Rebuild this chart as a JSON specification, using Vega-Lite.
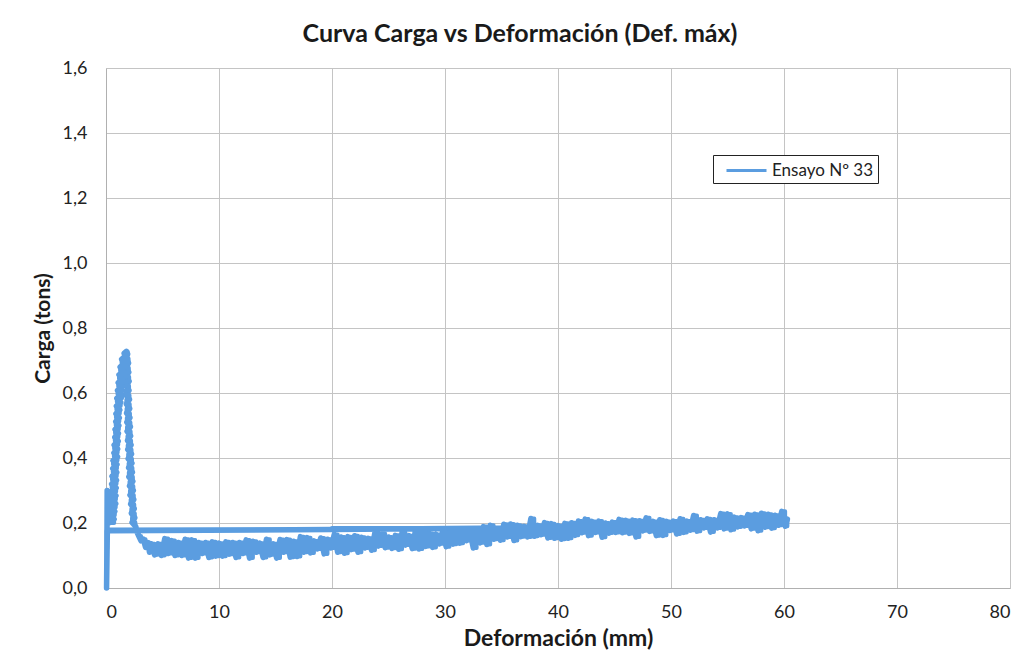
{
  "$schema": "https://vega.github.io/schema/vega-lite/v6.json",
  "width": 904,
  "height": 520,
  "autosize": {"type": "none"},
  "padding": {"left": 106, "top": 68, "right": 13, "bottom": 75},
  "background": "white",
  "title": {"text": "Curva Carga vs Deformación (Def. máx)", "font": "Lato", "fontSize": 25, "fontWeight": "bold", "color": "#1a1a1a", "anchor": "middle", "dx": -38, "offset": 12},
  "data": {"values": [
    {"def": 38.0, "carga": 0.185}, {"def": 20.0, "carga": 0.18}, {"def": 0.3, "carga": 0.176}, {"def": 0.12, "carga": 0.176},
    {"def": 0.05, "carga": 0.0}, {"def": 0.08, "carga": 0.12}, {"def": 0.1, "carga": 0.3}, {"def": 0.15, "carga": 0.21},
    {"def": 0.25, "carga": 0.2}, {"def": 0.72, "carga": 0.212}, {"def": 0.3, "carga": 0.224}, {"def": 0.78, "carga": 0.236},
    {"def": 0.33, "carga": 0.248}, {"def": 0.86, "carga": 0.26}, {"def": 0.4, "carga": 0.272}, {"def": 0.88, "carga": 0.284},
    {"def": 0.43, "carga": 0.296}, {"def": 0.9, "carga": 0.308}, {"def": 0.5, "carga": 0.32}, {"def": 0.93, "carga": 0.332},
    {"def": 0.53, "carga": 0.344}, {"def": 0.95, "carga": 0.356}, {"def": 0.6, "carga": 0.368}, {"def": 0.97, "carga": 0.38},
    {"def": 0.62, "carga": 0.392}, {"def": 1.02, "carga": 0.404}, {"def": 0.7, "carga": 0.416}, {"def": 1.03, "carga": 0.428},
    {"def": 0.72, "carga": 0.44}, {"def": 1.08, "carga": 0.452}, {"def": 0.78, "carga": 0.464}, {"def": 1.1, "carga": 0.476},
    {"def": 0.8, "carga": 0.488}, {"def": 1.14, "carga": 0.5}, {"def": 0.86, "carga": 0.512}, {"def": 1.18, "carga": 0.524},
    {"def": 0.88, "carga": 0.536}, {"def": 1.22, "carga": 0.548}, {"def": 0.92, "carga": 0.56}, {"def": 1.3, "carga": 0.572},
    {"def": 0.96, "carga": 0.584}, {"def": 1.42, "carga": 0.596}, {"def": 1.02, "carga": 0.608}, {"def": 1.45, "carga": 0.62},
    {"def": 1.08, "carga": 0.632}, {"def": 1.5, "carga": 0.644}, {"def": 1.15, "carga": 0.656}, {"def": 1.58, "carga": 0.668},
    {"def": 1.25, "carga": 0.68}, {"def": 1.62, "carga": 0.692}, {"def": 1.38, "carga": 0.704}, {"def": 1.7, "carga": 0.714},
    {"def": 1.6, "carga": 0.722}, {"def": 1.8, "carga": 0.728}, {"def": 1.92, "carga": 0.72},
    {"def": 1.78, "carga": 0.706}, {"def": 2.0, "carga": 0.692}, {"def": 1.76, "carga": 0.678}, {"def": 2.02, "carga": 0.664},
    {"def": 1.75, "carga": 0.65}, {"def": 2.05, "carga": 0.636}, {"def": 1.78, "carga": 0.622}, {"def": 2.04, "carga": 0.608},
    {"def": 1.76, "carga": 0.594}, {"def": 2.08, "carga": 0.58}, {"def": 1.8, "carga": 0.566}, {"def": 2.1, "carga": 0.552},
    {"def": 1.82, "carga": 0.538}, {"def": 2.12, "carga": 0.524}, {"def": 1.84, "carga": 0.51}, {"def": 2.16, "carga": 0.496},
    {"def": 1.86, "carga": 0.482}, {"def": 2.18, "carga": 0.468}, {"def": 1.9, "carga": 0.454}, {"def": 2.22, "carga": 0.44},
    {"def": 1.92, "carga": 0.426}, {"def": 2.26, "carga": 0.412}, {"def": 1.96, "carga": 0.398}, {"def": 2.3, "carga": 0.384},
    {"def": 2.0, "carga": 0.37}, {"def": 2.34, "carga": 0.356}, {"def": 2.02, "carga": 0.342}, {"def": 2.38, "carga": 0.328},
    {"def": 2.08, "carga": 0.314}, {"def": 2.42, "carga": 0.3}, {"def": 2.12, "carga": 0.286}, {"def": 2.46, "carga": 0.272},
    {"def": 2.18, "carga": 0.258}, {"def": 2.5, "carga": 0.244}, {"def": 2.24, "carga": 0.23}, {"def": 2.55, "carga": 0.216},
    {"def": 2.3, "carga": 0.202}, {"def": 2.6, "carga": 0.19}, {"def": 2.7, "carga": 0.175}, {"def": 2.9, "carga": 0.16},
    {"def": 3.1, "carga": 0.145}, {"def": 3.3, "carga": 0.15}, {"def": 3.5, "carga": 0.125}, {"def": 3.7, "carga": 0.14},
    {"def": 3.85, "carga": 0.11},
    {"def": 4.0, "carga": 0.136}, {"def": 4.3, "carga": 0.102}, {"def": 4.6, "carga": 0.136}, {"def": 4.9, "carga": 0.1},
    {"def": 5.2, "carga": 0.152}, {"def": 5.5, "carga": 0.106}, {"def": 5.8, "carga": 0.146}, {"def": 6.1, "carga": 0.1},
    {"def": 6.4, "carga": 0.14}, {"def": 6.7, "carga": 0.1}, {"def": 7.0, "carga": 0.15}, {"def": 7.3, "carga": 0.092},
    {"def": 7.6, "carga": 0.148}, {"def": 7.9, "carga": 0.092}, {"def": 8.2, "carga": 0.14}, {"def": 8.5, "carga": 0.106},
    {"def": 8.8, "carga": 0.14}, {"def": 9.1, "carga": 0.094}, {"def": 9.4, "carga": 0.142}, {"def": 9.7, "carga": 0.098},
    {"def": 10.0, "carga": 0.138}, {"def": 10.3, "carga": 0.098}, {"def": 10.6, "carga": 0.142}, {"def": 10.9, "carga": 0.104},
    {"def": 11.2, "carga": 0.14}, {"def": 11.5, "carga": 0.094}, {"def": 11.8, "carga": 0.14}, {"def": 12.1, "carga": 0.106},
    {"def": 12.4, "carga": 0.148}, {"def": 12.7, "carga": 0.092}, {"def": 13.0, "carga": 0.144}, {"def": 13.3, "carga": 0.11},
    {"def": 13.6, "carga": 0.138}, {"def": 13.9, "carga": 0.094}, {"def": 14.2, "carga": 0.15}, {"def": 14.5, "carga": 0.102},
    {"def": 14.8, "carga": 0.136}, {"def": 15.1, "carga": 0.092}, {"def": 15.4, "carga": 0.149}, {"def": 15.7, "carga": 0.11},
    {"def": 16.0, "carga": 0.149}, {"def": 16.3, "carga": 0.095}, {"def": 16.6, "carga": 0.144}, {"def": 16.9, "carga": 0.097},
    {"def": 17.2, "carga": 0.158}, {"def": 17.5, "carga": 0.11}, {"def": 17.8, "carga": 0.155}, {"def": 18.1, "carga": 0.108},
    {"def": 18.4, "carga": 0.145}, {"def": 18.7, "carga": 0.12}, {"def": 19.0, "carga": 0.154}, {"def": 19.3, "carga": 0.105},
    {"def": 19.6, "carga": 0.15}, {"def": 19.9, "carga": 0.123}, {"def": 20.2, "carga": 0.165}, {"def": 20.5, "carga": 0.11},
    {"def": 20.8, "carga": 0.157}, {"def": 21.1, "carga": 0.107}, {"def": 21.4, "carga": 0.158}, {"def": 21.7, "carga": 0.118},
    {"def": 22.0, "carga": 0.161}, {"def": 22.3, "carga": 0.11}, {"def": 22.6, "carga": 0.156}, {"def": 22.9, "carga": 0.123},
    {"def": 23.2, "carga": 0.153}, {"def": 23.5, "carga": 0.116}, {"def": 23.8, "carga": 0.171}, {"def": 24.1, "carga": 0.129},
    {"def": 24.4, "carga": 0.168}, {"def": 24.7, "carga": 0.124}, {"def": 25.0, "carga": 0.157}, {"def": 25.3, "carga": 0.122},
    {"def": 25.6, "carga": 0.162}, {"def": 25.9, "carga": 0.119}, {"def": 26.2, "carga": 0.171}, {"def": 26.5, "carga": 0.132},
    {"def": 26.8, "carga": 0.161}, {"def": 27.1, "carga": 0.121}, {"def": 27.4, "carga": 0.18}, {"def": 27.7, "carga": 0.12},
    {"def": 28.0, "carga": 0.179}, {"def": 28.3, "carga": 0.128}, {"def": 28.6, "carga": 0.168}, {"def": 28.9, "carga": 0.125},
    {"def": 29.2, "carga": 0.165}, {"def": 29.5, "carga": 0.136}, {"def": 29.8, "carga": 0.175}, {"def": 30.1, "carga": 0.127},
    {"def": 30.4, "carga": 0.172}, {"def": 30.7, "carga": 0.135}, {"def": 31.0, "carga": 0.176}, {"def": 31.3, "carga": 0.138},
    {"def": 31.6, "carga": 0.175}, {"def": 31.9, "carga": 0.146}, {"def": 32.2, "carga": 0.174}, {"def": 32.5, "carga": 0.123},
    {"def": 32.8, "carga": 0.174}, {"def": 33.1, "carga": 0.139}, {"def": 33.4, "carga": 0.189}, {"def": 33.7, "carga": 0.134},
    {"def": 34.0, "carga": 0.193}, {"def": 34.3, "carga": 0.15}, {"def": 34.6, "carga": 0.18}, {"def": 34.9, "carga": 0.147},
    {"def": 35.2, "carga": 0.196}, {"def": 35.5, "carga": 0.157}, {"def": 35.8, "carga": 0.197}, {"def": 36.1, "carga": 0.146},
    {"def": 36.4, "carga": 0.193}, {"def": 36.7, "carga": 0.158}, {"def": 37.0, "carga": 0.19}, {"def": 37.3, "carga": 0.157},
    {"def": 37.6, "carga": 0.214}, {"def": 37.9, "carga": 0.159}, {"def": 38.2, "carga": 0.193}, {"def": 38.5, "carga": 0.164},
    {"def": 38.8, "carga": 0.201}, {"def": 39.1, "carga": 0.154}, {"def": 39.4, "carga": 0.198}, {"def": 39.7, "carga": 0.153},
    {"def": 40.0, "carga": 0.192}, {"def": 40.3, "carga": 0.15}, {"def": 40.6, "carga": 0.199}, {"def": 40.9, "carga": 0.153},
    {"def": 41.2, "carga": 0.201}, {"def": 41.5, "carga": 0.162}, {"def": 41.8, "carga": 0.206}, {"def": 42.1, "carga": 0.17},
    {"def": 42.4, "carga": 0.212}, {"def": 42.7, "carga": 0.161}, {"def": 43.0, "carga": 0.205}, {"def": 43.3, "carga": 0.171},
    {"def": 43.6, "carga": 0.206}, {"def": 43.9, "carga": 0.156}, {"def": 44.2, "carga": 0.2}, {"def": 44.5, "carga": 0.169},
    {"def": 44.8, "carga": 0.203}, {"def": 45.1, "carga": 0.171}, {"def": 45.4, "carga": 0.211}, {"def": 45.7, "carga": 0.17},
    {"def": 46.0, "carga": 0.208}, {"def": 46.3, "carga": 0.168}, {"def": 46.6, "carga": 0.209}, {"def": 46.9, "carga": 0.157},
    {"def": 47.2, "carga": 0.207}, {"def": 47.5, "carga": 0.176}, {"def": 47.8, "carga": 0.216}, {"def": 48.1, "carga": 0.174},
    {"def": 48.4, "carga": 0.205}, {"def": 48.7, "carga": 0.161}, {"def": 49.0, "carga": 0.21}, {"def": 49.3, "carga": 0.162},
    {"def": 49.6, "carga": 0.205}, {"def": 49.9, "carga": 0.177}, {"def": 50.2, "carga": 0.206}, {"def": 50.5, "carga": 0.166},
    {"def": 50.8, "carga": 0.213}, {"def": 51.1, "carga": 0.171}, {"def": 51.4, "carga": 0.206}, {"def": 51.7, "carga": 0.178},
    {"def": 52.0, "carga": 0.223}, {"def": 52.3, "carga": 0.175}, {"def": 52.6, "carga": 0.21}, {"def": 52.9, "carga": 0.185},
    {"def": 53.2, "carga": 0.213}, {"def": 53.5, "carga": 0.172}, {"def": 53.8, "carga": 0.21}, {"def": 54.1, "carga": 0.185},
    {"def": 54.4, "carga": 0.229}, {"def": 54.7, "carga": 0.182}, {"def": 55.0, "carga": 0.228}, {"def": 55.3, "carga": 0.179},
    {"def": 55.6, "carga": 0.218}, {"def": 55.9, "carga": 0.188}, {"def": 56.2, "carga": 0.217}, {"def": 56.5, "carga": 0.191},
    {"def": 56.8, "carga": 0.226}, {"def": 57.1, "carga": 0.182}, {"def": 57.4, "carga": 0.227}, {"def": 57.7, "carga": 0.176},
    {"def": 58.0, "carga": 0.23}, {"def": 58.3, "carga": 0.187}, {"def": 58.6, "carga": 0.227}, {"def": 58.9, "carga": 0.184},
    {"def": 59.2, "carga": 0.224}, {"def": 59.5, "carga": 0.193}, {"def": 59.8, "carga": 0.236}, {"def": 60.1, "carga": 0.19},
    {"def": 60.3, "carga": 0.212}
  ]},
  "encoding": {
    "x": {"field": "def", "type": "quantitative", "scale": {"domain": [0, 80], "nice": false, "zero": true},
      "axis": {"values": [0, 10, 20, 30, 40, 50, 60, 70, 80], "title": "Deformación (mm)", "labelPadding": 15, "titlePadding": 6}},
    "y": {"field": "carga", "type": "quantitative", "scale": {"domain": [0, 1.6], "nice": false},
      "axis": {"values": [0, 0.2, 0.4, 0.6, 0.8, 1.0, 1.2, 1.4, 1.6], "labelExpr": "replace(format(datum.value, '.1f'), '.', ',')", "title": "Carga (tons)", "titleFontSize": 21, "labelPadding": 19, "titlePadding": 9}},
    "color": {"datum": "Ensayo Nº 33", "type": "nominal", "scale": {"range": ["#5b9de0"]},
      "legend": {"title": null, "orient": "none", "legendX": 607, "legendY": 87, "symbolType": "M-0.2,0H3.8", "symbolSize": 400, "symbolStrokeWidth": 3, "strokeColor": "#222222", "fillColor": "white", "padding": 4, "labelOffset": 32, "labelFont": "Lato", "labelFontSize": 17, "labelColor": "#222222", "labelLimit": 300}},
    "order": {"value": null}
  },
  "layer": [
    {"mark": {"type": "line", "strokeWidth": 5.5, "strokeJoin": "round", "strokeCap": "round"}},
    {"mark": {"type": "line", "interpolate": "step-after", "strokeWidth": 4, "strokeJoin": "round"}}
  ],
  "config": {
    "view": {"stroke": null},
    "axis": {"grid": true, "gridColor": "#c4c4c4", "gridWidth": 1, "domain": true, "domainColor": "#b0b0b0", "ticks": false,
      "labelFont": "Lato", "labelFontSize": 18, "labelColor": "#222222", "titleFont": "Lato", "titleFontSize": 23, "titleFontWeight": "bold", "titleColor": "#1a1a1a"}
  }
}
